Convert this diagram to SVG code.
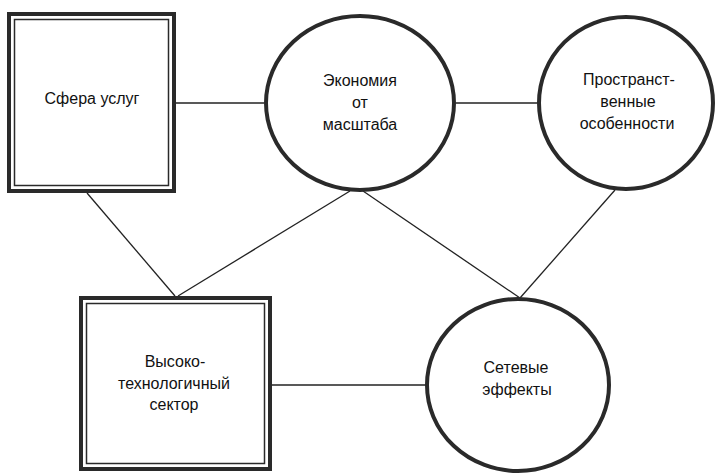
<svg xmlns="http://www.w3.org/2000/svg" width="719" height="473" viewBox="0 0 719 473">
<style>
.thick{fill:none;stroke:#2a2a2a;stroke-width:4}
.thin{fill:none;stroke:#2a2a2a;stroke-width:1.5}
.circ{fill:#fff;stroke:#2a2a2a;stroke-width:4}
.edge{stroke:#222;stroke-width:1.3;fill:none}
text{font-family:"Liberation Sans",Arial,sans-serif;font-size:16px;fill:#111;text-anchor:middle}
</style>
<rect width="719" height="473" fill="#fff"/>
<g id="connectors">
<line class="edge" x1="176" y1="103" x2="264" y2="103"/>
<line class="edge" x1="456" y1="103" x2="537" y2="103"/>
<line class="edge" x1="87" y1="193" x2="175" y2="296"/>
<line class="edge" x1="350" y1="191" x2="178" y2="296"/>
<line class="edge" x1="363" y1="191" x2="520" y2="298"/>
<line class="edge" x1="615" y1="190" x2="520" y2="298"/>
<line class="edge" x1="272" y1="385" x2="426" y2="385"/>
</g>
<g id="sfera">
<rect x="9" y="14" width="165" height="177" fill="#fff" class="thick"/>
<rect x="14.5" y="19.5" width="154" height="166" class="thin"/>
<text x="92" y="104">Сфера услуг</text>
</g>
<g id="economy">
<ellipse class="circ" cx="360" cy="103" rx="94" ry="87"/>
<text x="360" y="86">Экономия</text>
<text x="360" y="108">от</text>
<text x="360" y="130">масштаба</text>
</g>
<g id="spatial">
<ellipse class="circ" cx="626" cy="103" rx="87" ry="86"/>
<text x="629" y="85">Пространст-</text>
<text x="628" y="107">венные</text>
<text x="627" y="129">особенности</text>
</g>
<g id="hightech">
<rect x="81" y="298" width="189" height="171" fill="#fff" class="thick"/>
<rect x="86.5" y="303.5" width="178" height="160" class="thin"/>
<text x="175" y="367">Высоко-</text>
<text x="174" y="389">технологичный</text>
<text x="174" y="410">сектор</text>
</g>
<g id="network">
<ellipse class="circ" cx="518" cy="385" rx="91" ry="86"/>
<text x="516" y="373">Сетевые</text>
<text x="517" y="395">эффекты</text>
</g>
</svg>
